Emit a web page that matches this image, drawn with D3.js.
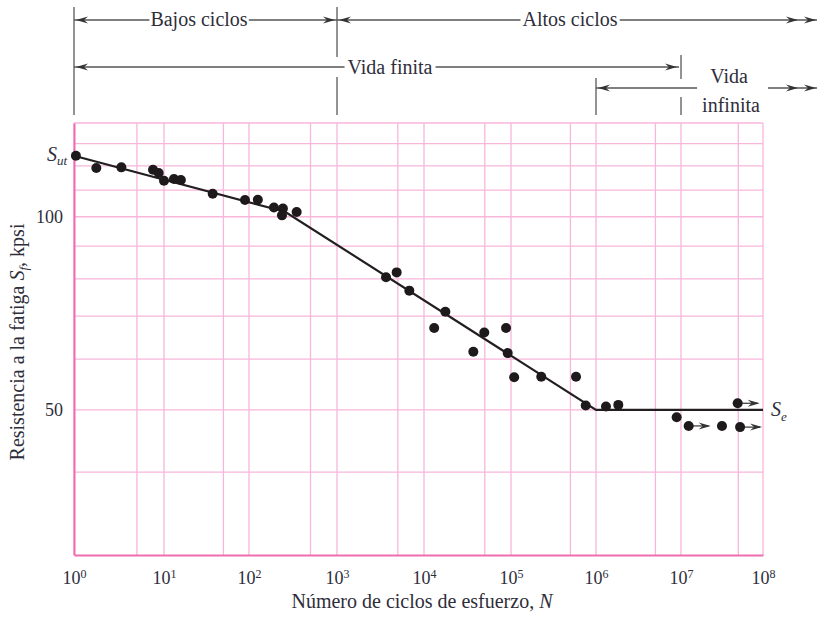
<!DOCTYPE html>
<html>
<head>
<meta charset="utf-8">
<script src="https://cdn.jsdelivr.net/npm/d3@7"></script>
<style>
body { margin: 0; background: #fff; }
text { font-family: "Liberation Serif", "DejaVu Serif", serif; fill: #2e2e3a; }
</style>
</head>
<body>
<script>
// datos (N en ciclos, S en kpsi)
var cycles   = [1.05, 1.77, 3.36, 7.55, 8.73, 10, 13.1, 15.8, 37.4, 89.7, 126, 192, 243, 237, 348,
                3660, 4850, 6780, 13100, 17600, 36900, 49300, 87700, 91600, 109000, 227000, 582000, 757000,
                1.31e6, 1.83e6, 8.89e6, 1.24e7, 3.16e7, 5.25e7, 4.91e7];
var strength = [124.5, 119.1, 119.4, 118.4, 117, 113.8, 114.5, 114.1, 108.6, 106.2, 106.3, 103.4, 103.0, 100.5, 101.7,
                80.5, 81.9, 76.7, 67.1, 71.1, 61.6, 66.0, 67.1, 61.3, 56.2, 56.3, 56.3, 50.8,
                50.6, 50.9, 48.7, 47.2, 47.2, 47.0, 51.2];
var runout   = [false, false, false, false, false, false, false, false, false, false, false, false, false, false, false,
                false, false, false, false, false, false, false, false, false, false, false, false, false,
                false, false, false, true, false, true, true];

var curveN = [1, 257, 1e6, 1e8];
var curveS = [124.5, 101.8, 50, 50];

var decades = [0, 1, 2, 3, 4, 5, 6, 7, 8];
var yTicks = [50, 100];
var gridN = [1, 5, 10, 50, 100, 500, 1e3, 5e3, 1e4, 5e4, 1e5, 5e5, 1e6, 5e6, 1e7, 5e7, 1e8];
var gridS = [40, 50, 60, 70, 80, 90, 100, 110, 120, 130, 140];

var width = 817, height = 617;

var svg = d3.select("body")
  .append("svg")
  .attr("width", width)
  .attr("height", height);

// el papel original no tiene decadas del todo iguales
var xl = d3.scaleLinear()
  .domain(decades)
  .range([74, 164, 249, 337, 424, 511, 596, 681, 763]);
var x = n => xl(Math.log10(n));

var y = d3.scaleLog()
  .domain([29.7, 140])
  .range([555, 123]);

// rejilla rosa
svg.append("g").selectAll("line")
  .data(gridN)
  .enter().append("line")
  .attr("x1", d => x(d)).attr("x2", d => x(d))
  .attr("y1", y(29.7)).attr("y2", y(140))
  .attr("stroke", "#f8b6db")
  .attr("stroke-width", 1.3);

svg.append("g").selectAll("line")
  .data(gridS)
  .enter().append("line")
  .attr("x1", x(1)).attr("x2", x(1e8))
  .attr("y1", d => y(d)).attr("y2", d => y(d))
  .attr("stroke", "#f8b6db")
  .attr("stroke-width", 1.3);

// ejes
var xAxis = svg.append("g")
  .attr("transform", "translate(0," + y(29.7) + ")")
  .call(d3.axisBottom(xl).tickValues(decades).tickSize(0).tickPadding(16).tickFormat(""));
xAxis.select(".domain").attr("stroke", "#ef6cb1").attr("stroke-width", 2);
xAxis.selectAll(".tick text")
  .attr("font-size", 18)
  .attr("fill", "#2e2e3a")
  .each(function (d) {
    var t = d3.select(this);
    t.append("tspan").text("10");
    t.append("tspan").attr("dy", "-0.45em").attr("font-size", 12).text(d);
  });

var yAxis = svg.append("g")
  .attr("transform", "translate(" + x(1) + ",0)")
  .call(d3.axisLeft(y).tickValues(yTicks).tickSize(0).tickPadding(11).tickFormat(d3.format("d")));
yAxis.select(".domain").attr("stroke", "#ef6cb1").attr("stroke-width", 2);
yAxis.selectAll(".tick text").attr("font-size", 18).attr("fill", "#2e2e3a");

// titulos
svg.append("text")
  .attr("x", 422)
  .attr("y", 608)
  .attr("text-anchor", "middle")
  .attr("font-size", 20)
  .html('Número de ciclos de esfuerzo, <tspan font-style="italic">N</tspan>');

svg.append("text")
  .attr("transform", "translate(24,342) rotate(-90)")
  .attr("text-anchor", "middle")
  .attr("font-size", 20)
  .html('Resistencia a la fatiga <tspan font-style="italic">S</tspan><tspan font-style="italic" font-size="13" dy="4">f</tspan><tspan dy="-4">, kpsi</tspan>');

// curva S-N
svg.append("path")
  .datum(curveN.map((n, i) => [n, curveS[i]]))
  .attr("d", d3.line().x(d => x(d[0])).y(d => y(d[1])))
  .attr("fill", "none")
  .attr("stroke", "#231f20")
  .attr("stroke-width", 2.2);

// flechas
function head(g, tip, yy, dir) {
  g.append("path")
    .attr("d", "M" + tip + "," + yy +
      "L" + (tip - dir * 12) + "," + (yy - 3.5) +
      "L" + (tip - dir * 8) + "," + yy +
      "L" + (tip - dir * 12) + "," + (yy + 3.5) + "Z")
    .attr("fill", "#333");
}

var data = cycles.map((n, i) => ({ n: n, s: strength[i], r: runout[i] }));
var arrows = svg.append("g");
data.filter(d => d.r).forEach(function (d) {
  arrows.append("line")
    .attr("x1", x(d.n)).attr("x2", x(d.n) + 20)
    .attr("y1", y(d.s)).attr("y2", y(d.s))
    .attr("stroke", "#333").attr("stroke-width", 1.2);
  head(arrows, x(d.n) + 22, y(d.s), 1);
});

svg.append("g").selectAll("circle")
  .data(data)
  .enter().append("circle")
  .attr("cx", d => x(d.n))
  .attr("cy", d => y(d.s))
  .attr("r", 5)
  .attr("fill", "#1e1a1b");

// S_ut y S_e
svg.append("text")
  .attr("x", 67).attr("y", 161)
  .attr("text-anchor", "end")
  .attr("font-size", 20)
  .attr("font-style", "italic")
  .html('S<tspan font-size="13" dy="4">ut</tspan>');

svg.append("text")
  .attr("x", 771).attr("y", y(50) + 6)
  .attr("font-size", 20)
  .attr("font-style", "italic")
  .html('S<tspan font-size="13" dy="5">e</tspan>');

// anotaciones superiores
var annot = svg.append("g");

function tick(xx, y1, y2) {
  annot.append("line")
    .attr("x1", xx).attr("x2", xx)
    .attr("y1", y1).attr("y2", y2)
    .attr("stroke", "#777").attr("stroke-width", 1.6);
}

function span(yy, x0, x1, gap0, gap1, leftHead, rightHead, doubleRight) {
  var segs = gap0 == null ? [[x0, x1]] : [[x0, gap0], [gap1, x1]];
  segs.forEach(function (s) {
    annot.append("line")
      .attr("x1", s[0]).attr("x2", s[1])
      .attr("y1", yy).attr("y2", yy)
      .attr("stroke", "#555").attr("stroke-width", 1.3);
  });
  if (leftHead) head(annot, x0 + 2, yy, -1);
  if (rightHead) head(annot, x1 - 2, yy, 1);
  if (doubleRight) { head(annot, 798, yy, 1); head(annot, 816, yy, 1); }
}

function label(cx, yy, txt) {
  var t = annot.append("text")
    .attr("x", cx).attr("y", yy)
    .attr("text-anchor", "middle")
    .attr("font-size", 20)
    .text(txt);
  return t.node().getBBox();
}

tick(x(1), 7, 115);
tick(x(1e3), 7, 57);
tick(x(1e3), 77, 115);
tick(x(1e6), 78, 115);
tick(x(1e7), 55, 79);
tick(x(1e7), 97, 115);

var b = label(199, 26, "Bajos ciclos");
span(20, x(1), x(1e3), b.x - 1, b.x + b.width + 1, true, true, false);

b = label(570, 26, "Altos ciclos");
span(20, x(1e3), width, b.x - 2, b.x + b.width + 2, true, false, true);

b = label(390, 74, "Vida finita");
span(67, x(1), x(1e7) - 2, b.x - 3, b.x + b.width + 3, true, true, false);

label(729, 83, "Vida");
b = label(731, 112, "infinita");
span(88, x(1e6), width, 697, 768, true, false, true);
</script>
</body>
</html>
